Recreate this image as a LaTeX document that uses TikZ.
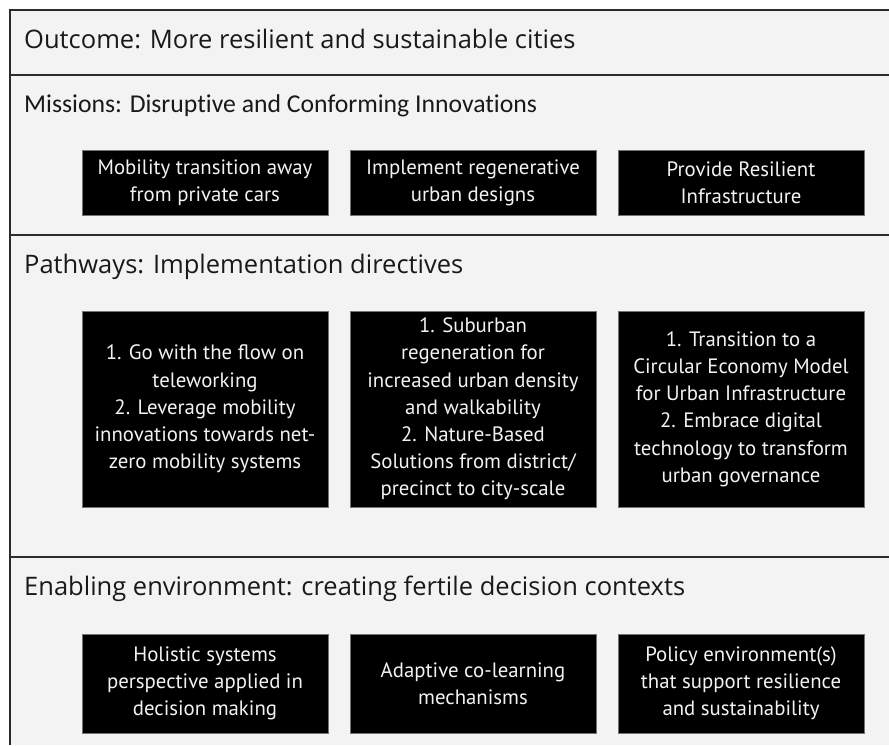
\documentclass[tikz,border=0pt]{standalone}
\usepackage{fontspec}
\setmainfont{PT Sans}
\newfontfamily\headfont{Open Sans}
\newfontfamily\misfont[Ligatures=NoCommon]{Carlito}
\usetikzlibrary{positioning}
\definecolor{panel}{HTML}{F3F3F3}
\definecolor{rule}{HTML}{2B2B2B}

\begin{document}
\begin{tikzpicture}[x=1pt, y=-1pt,
    head/.style={anchor=base west, inner sep=0pt, text=black!90, font=\headfont\fontsize{25.5}{30}\selectfont},
    item/.style={fill=black, draw=black!55, line width=0.8pt, text=white!95!black, align=center,
      minimum width=246pt, inner sep=0pt, font=\fontsize{20.8}{27.2}\selectfont}]

  \useasboundingbox (0,0) rectangle (889,745);

  % Panel and frame
  \fill[panel] (10,10) rectangle (889,745);
  \draw[rule, line width=2pt] (889,10) -- (10,10) -- (10,745);
  \draw[rule, line width=2pt] (10,75) -- (889,75);
  \draw[rule, line width=2pt] (10,235) -- (889,235);
  \draw[rule, line width=2pt] (10,557) -- (889,557);

  % Section headings
  \node[head] (outcome) at (24,48) {Outcome: More resilient and sustainable cities};
  \node[head, font=\misfont\fontsize{25.7}{30}\selectfont] (missions) at (24,112) {Missions: Disruptive and Conforming Innovations};
  \node[head] (pathways) at (24,273) {Pathways: Implementation directives};
  \node[head] (enabling) at (24,595) {Enabling environment: creating fertile decision contexts};

  % Missions
  \node[item, minimum height=65pt] (mis1) at (205,182.5) {Mobility transition away\\from private cars};
  \node[item, minimum height=65pt] (mis2) at (473,182.5) {Implement regenerative\\urban designs};
  \node[item, minimum height=65pt] (mis3) at (741,182.5) {Provide Resilient\\Infrastructure};

  % Pathways
  \node[item, minimum height=196pt] (path1) at (205,409) {1. Go with the flow on\\teleworking\\2. Leverage mobility\\innovations towards net-\\zero mobility systems};
  \node[item, minimum height=196pt] (path2) at (473,409) {1. Suburban\\regeneration for\\increased urban density\\and walkability\\2. Nature-Based\\Solutions from district/\\precinct to city-scale};
  \node[item, minimum height=196pt] (path3) at (741,409) {1. Transition to a\\Circular Economy Model\\for Urban Infrastructure\\2. Embrace digital\\technology to transform\\urban governance};

  % Enabling environment
  \node[item, minimum height=99pt] (env1) at (205,683.5) {Holistic systems\\perspective applied in\\decision making};
  \node[item, minimum height=99pt] (env2) at (473,683.5) {Adaptive co-learning\\mechanisms};
  \node[item, minimum height=99pt] (env3) at (741,683.5) {Policy environment(s)\\that support resilience\\and sustainability};
\end{tikzpicture}
\end{document}
